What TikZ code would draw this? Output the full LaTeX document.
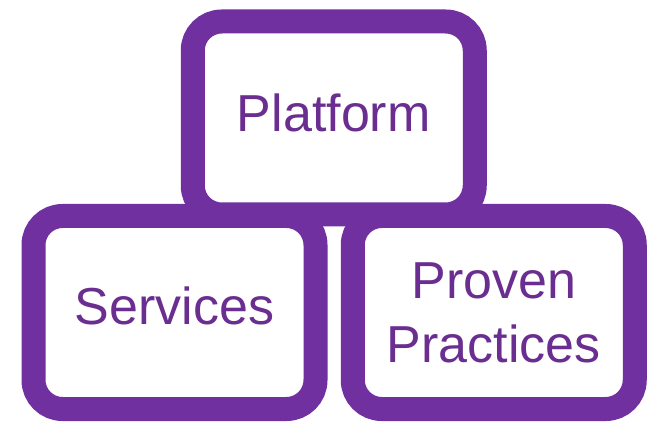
\documentclass[tikz,border=0pt]{standalone}
\usepackage{fontspec}
\setmainfont{Liberation Sans}
\usepackage{tikz}
\definecolor{edgepurple}{HTML}{7030A0}
\definecolor{textpurple}{HTML}{6A2D90}

\begin{document}
\begin{tikzpicture}[x=1pt,y=1pt,
	block/.style={draw=edgepurple,fill=white,line width=24pt,rounded corners=29pt,
		minimum width=\bw pt,minimum height=\bh pt,inner sep=0pt,align=center,
		text=textpurple,font=\fontsize{52}{64}\selectfont}]
					\def\bw{282};
					\def\bh{193};
					\useasboundingbox (0,0) rectangle (654,421);
					\node[block,text depth=11pt] (platform) at (333.75,303) {Platform};
					\node[block,text depth=13pt] (services) at (174.5,108.5) {Services};
					\node[block] (practices) at (493.75,108.5) {Proven\\Practices};
				\end{tikzpicture}
\end{document}
